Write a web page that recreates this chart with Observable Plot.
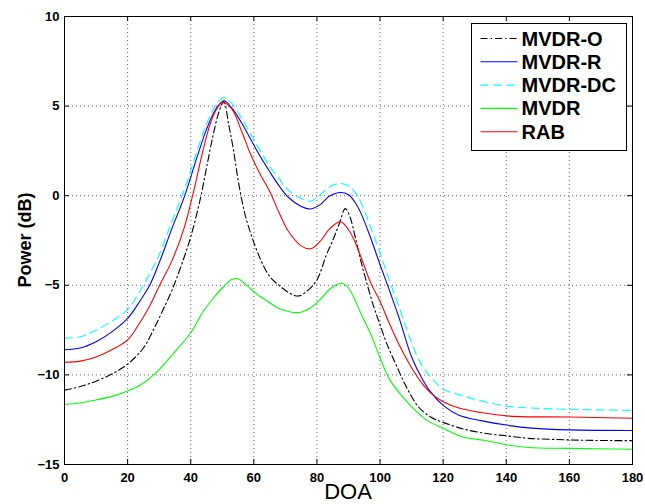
<!DOCTYPE html>
<html><head><meta charset="utf-8">
<script src="https://cdn.jsdelivr.net/npm/d3@7"></script>
<script src="https://cdn.jsdelivr.net/npm/@observablehq/plot@0.6"></script>
<style>
html,body{margin:0;padding:0;background:#fff;}
#chart{position:relative;width:645px;height:504px;}
</style></head><body><div id="chart"></div>
<script>
// ---- data ----
const doaO  = [0,5,10,15,20,25,28,31,34,37,40,43,45,47,49,50.5,52,53.5,55,57,59,62,65,68,71,74,77,80,83,85,87,89,90.5,92,94,96,98,100,102,105,108,112,116,120,126,133,140,147,155,165,180];
const mvdrO = [-10.85,-10.65,-10.35,-9.95,-9.4,-8.5,-7.55,-6.45,-5.3,-3.9,-2.3,-0.2,1.55,3.3,4.7,5.25,4.0,2.6,0.9,-0.9,-2.1,-3.5,-4.5,-5.0,-5.4,-5.6,-5.3,-4.7,-3.3,-2.5,-1.6,-0.72,-1.2,-2.2,-3.7,-5.0,-6.2,-7.2,-8.2,-9.4,-10.55,-11.75,-12.35,-12.65,-13.0,-13.25,-13.4,-13.54,-13.6,-13.65,-13.67];

const doaR  = [0,5,10,15,20,24,27,30,34,38,42,45,48,50.5,53,56,59,62,65,68,71,75,78,81,84,87.5,90,92,94,97,100,103,106,110,113,116,120,125,132,140,148,160,180];
const mvdrR = [-8.6,-8.5,-8.15,-7.6,-6.85,-5.85,-5.0,-3.75,-1.85,-0.05,2.15,3.7,4.85,5.3,4.9,4.1,3.15,2.2,1.35,0.55,-0.1,-0.6,-0.74,-0.5,-0.02,0.18,0.05,-0.35,-1.0,-2.35,-3.85,-5.3,-6.8,-9.0,-10.1,-10.95,-11.7,-12.25,-12.55,-12.8,-12.97,-13.07,-13.1];

const doaDC  = doaR;
const mvdrDC = [-7.95,-7.87,-7.5,-7.0,-6.35,-5.3,-4.35,-3.3,-1.45,0.35,2.5,4.0,5.05,5.48,5.15,4.35,3.45,2.5,1.65,0.95,0.3,-0.15,-0.3,0.05,0.5,0.68,0.55,0.2,-0.4,-1.75,-3.2,-4.75,-6.2,-8.2,-9.4,-10.1,-10.8,-11.1,-11.45,-11.74,-11.85,-11.92,-11.98];

const doaM  = [0,5,10,15,20,25,30,35,40,44,47,50,53,55,58,61,64,68,72,75,78,81,84,86,88,90,92,94,97,100,103,107,111,115,120,126,133,140,147,160,180];
const mvdr  = [-11.65,-11.57,-11.4,-11.2,-10.9,-10.45,-9.7,-8.7,-7.65,-6.45,-5.75,-5.15,-4.68,-4.63,-5.05,-5.5,-5.85,-6.3,-6.5,-6.5,-6.25,-5.8,-5.22,-4.98,-4.89,-5.15,-5.8,-6.6,-7.7,-9.05,-10.25,-11.2,-11.95,-12.55,-12.98,-13.45,-13.65,-13.9,-14.05,-14.1,-14.15];

const doaRAB = [0,5,10,15,20,24,27,30,34,38,41,44,47,50,53,56,59,62,65,68,71,75,78,81,84,87.5,90,92,94,97,100,103,106,110,113,116,120,125,132,141,160,180];
const rab    = [-9.3,-9.23,-9.0,-8.6,-8.05,-7.05,-6.15,-5.05,-3.65,-1.75,0.3,2.6,4.4,5.2,4.85,3.65,2.3,1.2,0.25,-0.95,-2.0,-2.8,-2.96,-2.55,-1.85,-1.45,-1.9,-2.55,-3.45,-4.85,-5.9,-7.15,-8.3,-9.6,-10.4,-11.0,-11.5,-11.85,-12.1,-12.3,-12.35,-12.42];

const seriesNames = ["MVDR-O","MVDR-R","MVDR-DC","MVDR","RAB"];
const xTicks = [0,20,40,60,80,100,120,140,160,180];
const yTicks = [-15,-10,-5,0,5,10];

// ---- build ----
const rows = (xs, ys) => xs.map((d, i) => ({doa: d, power: ys[i]}));
const series = [
  {name: seriesNames[0], data: rows(doaO, mvdrO),   stroke: "#000000", dash: "7,3,1.5,3"},
  {name: seriesNames[1], data: rows(doaR, mvdrR),   stroke: "#0000ff", dash: null},
  {name: seriesNames[2], data: rows(doaDC, mvdrDC), stroke: "#00ffff", dash: "8,5"},
  {name: seriesNames[3], data: rows(doaM, mvdr),    stroke: "#00ff00", dash: null},
  {name: seriesNames[4], data: rows(doaRAB, rab),   stroke: "#ff0000", dash: null}
];

const W = 645, H = 504, mL = 64, mR = 13, mT = 16, mB = 40;
const pw = W - mL - mR, ph = H - mT - mB, tk = 5;
const font = "'Liberation Sans', Arial, Helvetica, sans-serif";

const chart = Plot.plot({
  width: W, height: H,
  marginLeft: mL, marginRight: mR, marginTop: mT, marginBottom: mB,
  x: {domain: [0, 180]},
  y: {domain: [-15, 10]},
  style: {fontFamily: font, background: "#fff", color: "#000"},
  marks: [
    Plot.gridX(xTicks.slice(1, -1), {stroke: "#666", strokeOpacity: 1, strokeDasharray: "1,3"}),
    Plot.gridY(yTicks.slice(1, -1), {stroke: "#666", strokeOpacity: 1, strokeDasharray: "1,3"}),
    ...series.map(s => Plot.line(s.data, {
      x: "doa", y: "power", stroke: s.stroke, strokeWidth: 1.1,
      strokeDasharray: s.dash, curve: "catmull-rom"
    })),
    Plot.frame({stroke: "#000", strokeWidth: 1}),
    Plot.tickX(xTicks, {x: d => d, insetTop: ph - tk, stroke: "#000"}),
    Plot.tickX(xTicks, {x: d => d, insetBottom: ph - tk, stroke: "#000"}),
    Plot.tickY(yTicks, {y: d => d, insetRight: pw - tk, stroke: "#000"}),
    Plot.tickY(yTicks, {y: d => d, insetLeft: pw - tk, stroke: "#000"}),
    Plot.axisX(xTicks, {tickSize: 0, tickPadding: 8, fontSize: 13, fontWeight: "bold", label: null}),
    Plot.axisY(yTicks, {tickSize: 0, tickPadding: 5, fontSize: 13, fontWeight: "bold", label: null})
  ]
});
document.getElementById("chart").appendChild(chart);

// ---- axis titles and legend ----
const svg = d3.select(chart);
svg.append("text")
  .attr("transform", `translate(25,${mT + ph / 2}) rotate(-90)`)
  .attr("text-anchor", "middle").attr("dominant-baseline", "central")
  .attr("font-family", font).attr("font-size", 18).attr("font-weight", "bold")
  .attr("fill", "#000").text("Power (dB)");
svg.append("text")
  .attr("x", mL + pw / 2).attr("y", 499)
  .attr("text-anchor", "middle")
  .attr("font-family", font).attr("font-size", 22)
  .attr("fill", "#000").text("DOA");

const lg = svg.append("g").attr("transform", "translate(471.5,23.5)");
lg.append("rect").attr("width", 155).attr("height", 127)
  .attr("fill", "#fff").attr("stroke", "#000").attr("stroke-width", 1);
series.forEach((s, i) => {
  const yy = 15 + i * 23.3;
  lg.append("line").attr("x1", 9).attr("x2", 46).attr("y1", yy).attr("y2", yy)
    .attr("stroke", s.stroke).attr("stroke-width", 1.1)
    .attr("stroke-dasharray", s.dash);
  lg.append("text").attr("x", 50).attr("y", yy).attr("dominant-baseline", "central")
    .attr("text-anchor", "start")
    .attr("font-family", font).attr("font-size", 20).attr("font-weight", "bold")
    .attr("fill", "#000").text(s.name);
});
</script>
</body></html>
